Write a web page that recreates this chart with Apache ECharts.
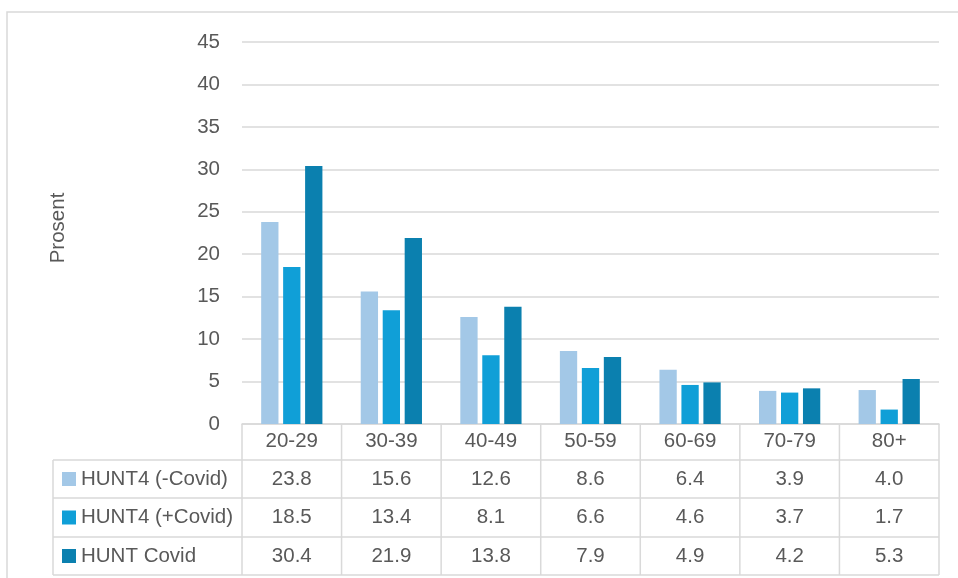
<!DOCTYPE html>
<html>
<head>
<meta charset="utf-8">
<script src="https://cdn.jsdelivr.net/npm/echarts@6/dist/echarts.min.js"></script>
<style>
  html, body { margin: 0; padding: 0; background: #ffffff; }
  #chart { width: 958px; height: 578px; }
</style>
</head>
<body>
<div id="chart"></div>
<script>
// Age groups and the share (percent) in each study group
const categories = ['20-29', '30-39', '40-49', '50-59', '60-69', '70-79', '80+'];
const seriesNames = ['HUNT4 (-Covid)', 'HUNT4 (+Covid)', 'HUNT Covid'];
const hunt4NoCovid = [23.8, 15.6, 12.6, 8.6, 6.4, 3.9, 4.0];
const hunt4Covid = [18.5, 13.4, 8.1, 6.6, 4.6, 3.7, 1.7];
const huntCovid = [30.4, 21.9, 13.8, 7.9, 4.9, 4.2, 5.3];
const yTicks = { min: 0, max: 45, interval: 5 };

const seriesValues = [hunt4NoCovid, hunt4Covid, huntCovid];
const colors = ['#A3C8E7', '#109FD7', '#0B80AF'];
const textColor = '#595959';
const lineColor = '#D9D9D9';
const FONT = '"Liberation Sans", Arial, sans-serif';
const FS = 20.5;

const chart = echarts.init(document.getElementById('chart'), null, { renderer: 'canvas' });

const GRID = { left: 242, right: 19, top: 42, bottom: 154 };

chart.setOption({
  animation: false,
  backgroundColor: '#ffffff',
  textStyle: { fontFamily: FONT },
  grid: GRID,
  xAxis: {
    type: 'category',
    data: categories,
    axisLine: { show: true, lineStyle: { color: lineColor, width: 1.5 } },
    axisTick: { show: false },
    axisLabel: { color: textColor, fontSize: FS, fontFamily: FONT, margin: 7 }
  },
  yAxis: {
    type: 'value',
    min: yTicks.min,
    max: yTicks.max,
    interval: yTicks.interval,
    name: 'Prosent',
    nameLocation: 'middle',
    nameRotate: 90,
    nameGap: 173,
    nameTextStyle: { color: textColor, fontSize: FS, fontFamily: FONT, padding: [0, 0, 0, 10] },
    axisLine: { show: false },
    axisTick: { show: false },
    axisLabel: { color: textColor, fontSize: FS, fontFamily: FONT, margin: 22 },
    splitLine: { lineStyle: { color: lineColor, width: 1.5 } }
  },
  series: seriesNames.map((name, i) => ({
    name,
    type: 'bar',
    data: seriesValues[i],
    barWidth: 17.3,
    barGap: '27%',
    itemStyle: { color: colors[i] }
  }))
});

// Data table beneath the plot, aligned to the category axis
function buildTable() {
  const xAxisY = 578 - GRID.bottom;
  const rowEdges = [xAxisY, 460, 498, 537, 575];
  const tableLeft = 53;
  const gridLeft = GRID.left;
  const gridRight = 958 - GRID.right;
  const colW = (gridRight - gridLeft) / categories.length;
  const els = [];
  const line = (x1, y1, x2, y2) => els.push({
    type: 'line', silent: true,
    shape: { x1, y1, x2, y2 },
    style: { stroke: lineColor, lineWidth: 1.5 }
  });

  // outer frame
  els.push({ type: 'polyline', silent: true,
    shape: { points: [[7, 578], [7, 12], [958, 12]] },
    style: { stroke: lineColor, lineWidth: 1.5, fill: null } });

  // horizontal rules
  for (let r = 1; r < rowEdges.length; r++) line(tableLeft, rowEdges[r], gridRight, rowEdges[r]);
  // vertical rules
  line(tableLeft, rowEdges[1], tableLeft, rowEdges[4]);
  for (let c = 0; c <= categories.length; c++) {
    const x = gridLeft + c * colW;
    line(x, xAxisY, x, rowEdges[4]);
  }

  seriesNames.forEach((name, i) => {
    const cy = (rowEdges[i + 1] + rowEdges[i + 2]) / 2;
    els.push({ type: 'rect', silent: true,
      shape: { x: 62, y: cy - 7, width: 14, height: 14 },
      style: { fill: colors[i] } });
    els.push({ type: 'text', silent: true,
      x: 81, y: cy,
      style: { text: name, fill: textColor, font: FS + 'px ' + FONT,
        textAlign: 'left', textVerticalAlign: 'middle' } });
    seriesValues[i].forEach((v, j) => {
      const cx = chart.convertToPixel({ xAxisIndex: 0 }, categories[j]);
      els.push({ type: 'text', silent: true,
        x: cx, y: cy,
        style: { text: v.toFixed(1), fill: textColor, font: FS + 'px ' + FONT,
          textAlign: 'center', textVerticalAlign: 'middle' } });
    });
  });
  return els;
}

chart.setOption({ graphic: { elements: buildTable() } });
</script>
</body>
</html>
